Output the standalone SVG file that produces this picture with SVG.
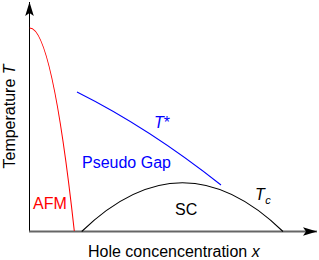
<svg xmlns="http://www.w3.org/2000/svg" width="319" height="260" viewBox="0 0 319 260">
<style>
text{font-family:"Liberation Sans",Arial,sans-serif;font-size:16px}
.curve{fill:none;stroke-width:1.05}
.it{font-style:italic}
</style>
<defs>
<marker id="arr" markerUnits="userSpaceOnUse" markerWidth="16" markerHeight="12" viewBox="0 0 16 12" refX="14" refY="6" orient="auto">
<path d="M0,1.7 L14,6 L0,10.3 L3,6 Z" fill="#000"/>
</marker>
</defs>
<rect width="319" height="260" fill="#fff"/>
<g id="axes">
<line x1="29.5" y1="232" x2="29.5" y2="2" stroke="#000" stroke-width="1" marker-end="url(#arr)"/>
<line x1="29" y1="231.5" x2="317" y2="231.5" stroke="#666" stroke-width="1.8" marker-end="url(#arr)"/>
</g>
<g id="connectors">
<path id="afm-curve" class="curve" stroke="#f00" d="M29.7,28 Q52,28 74.3,231"/>
<path id="tstar-curve" class="curve" stroke="#00f" d="M77,92 Q149,128 221,185"/>
<path id="tc-curve" class="curve" stroke="#000" d="M81.7,231.5 Q182.5,134 283,231.5"/>
</g>
<g id="label-afm"><text x="33" y="209" fill="#f00">AFM</text></g>
<g id="label-pg"><text x="82" y="168" fill="#00f">Pseudo Gap</text></g>
<g id="label-tstar"><text x="154" y="128" fill="#00f" font-size="15"><tspan class="it">T</tspan><tspan>*</tspan></text></g>
<g id="label-sc"><text x="175" y="215" fill="#000">SC</text></g>
<g id="label-tc"><text x="255" y="200" fill="#000" font-size="15"><tspan class="it">T</tspan><tspan class="it" font-size="11" dx="0.5" dy="4">c</tspan></text></g>
<g id="label-x"><text x="88" y="257" fill="#000">Hole concencentration <tspan class="it">x</tspan></text></g>
<g id="label-y"><text transform="translate(15,116.5) rotate(-90)" text-anchor="middle" fill="#000">Temperature <tspan class="it">T</tspan></text></g>
</svg>
